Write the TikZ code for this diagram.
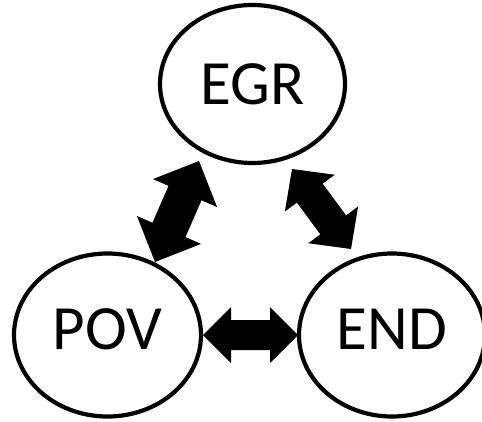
\documentclass[tikz,border=0pt]{standalone}
\usepackage{fontspec}
\setmainfont{Carlito}
\usetikzlibrary{calc,shapes.geometric}
% #1 tip A, #2 tip B, #3 head length, #4 head half width, #5 shaft half width
\newcommand\dblblock[5]{%
  \fill[arrowfill] (#1)
    -- ($(#1)!#3!(#2)!#4!90:(#2)$)
    -- ($(#1)!#3!(#2)!#5!90:(#2)$)
    -- ($(#2)!#3!(#1)!#5!-90:(#1)$)
    -- ($(#2)!#3!(#1)!#4!-90:(#1)$)
    -- (#2)
    -- ($(#2)!#3!(#1)!#4!90:(#1)$)
    -- ($(#2)!#3!(#1)!#5!90:(#1)$)
    -- ($(#1)!#3!(#2)!#5!-90:(#2)$)
    -- ($(#1)!#3!(#2)!#4!-90:(#2)$)
    -- cycle;}
\begin{document}
\begin{tikzpicture}[x=1pt,y=-1pt,
  state/.style={ellipse, draw=black, line width=4.2pt, fill=white,
    inner sep=2pt, font=\fontsize{63}{63}\selectfont},
  arrowfill/.style={fill=black}]
\useasboundingbox (0,0) rectangle (482,421);
\node[state, minimum width=185pt, minimum height=158pt, text depth=0pt] (egr) at (252.5,84) {EGR};
\node[state, minimum width=187pt, minimum height=163pt, text depth=12pt] (pov) at (107.5,335) {POV};
\node[state, minimum width=186pt, minimum height=163pt, text depth=12pt] (end) at (392,335) {END};
% arrow tips (free ends next to the ellipses)
\coordinate (egrL) at (199,161);
\coordinate (povT) at (155,262);
\coordinate (egrR) at (292,169);
\coordinate (endT) at (351,249);
\coordinate (povR) at (203,335);
\coordinate (endL) at (298,335);
\dblblock{egrL}{povT}{35pt}{35pt}{18pt}
\dblblock{egrR}{endT}{30pt}{31pt}{16pt}
\dblblock{povR}{endL}{28pt}{28pt}{15pt}
\end{tikzpicture}
\end{document}
